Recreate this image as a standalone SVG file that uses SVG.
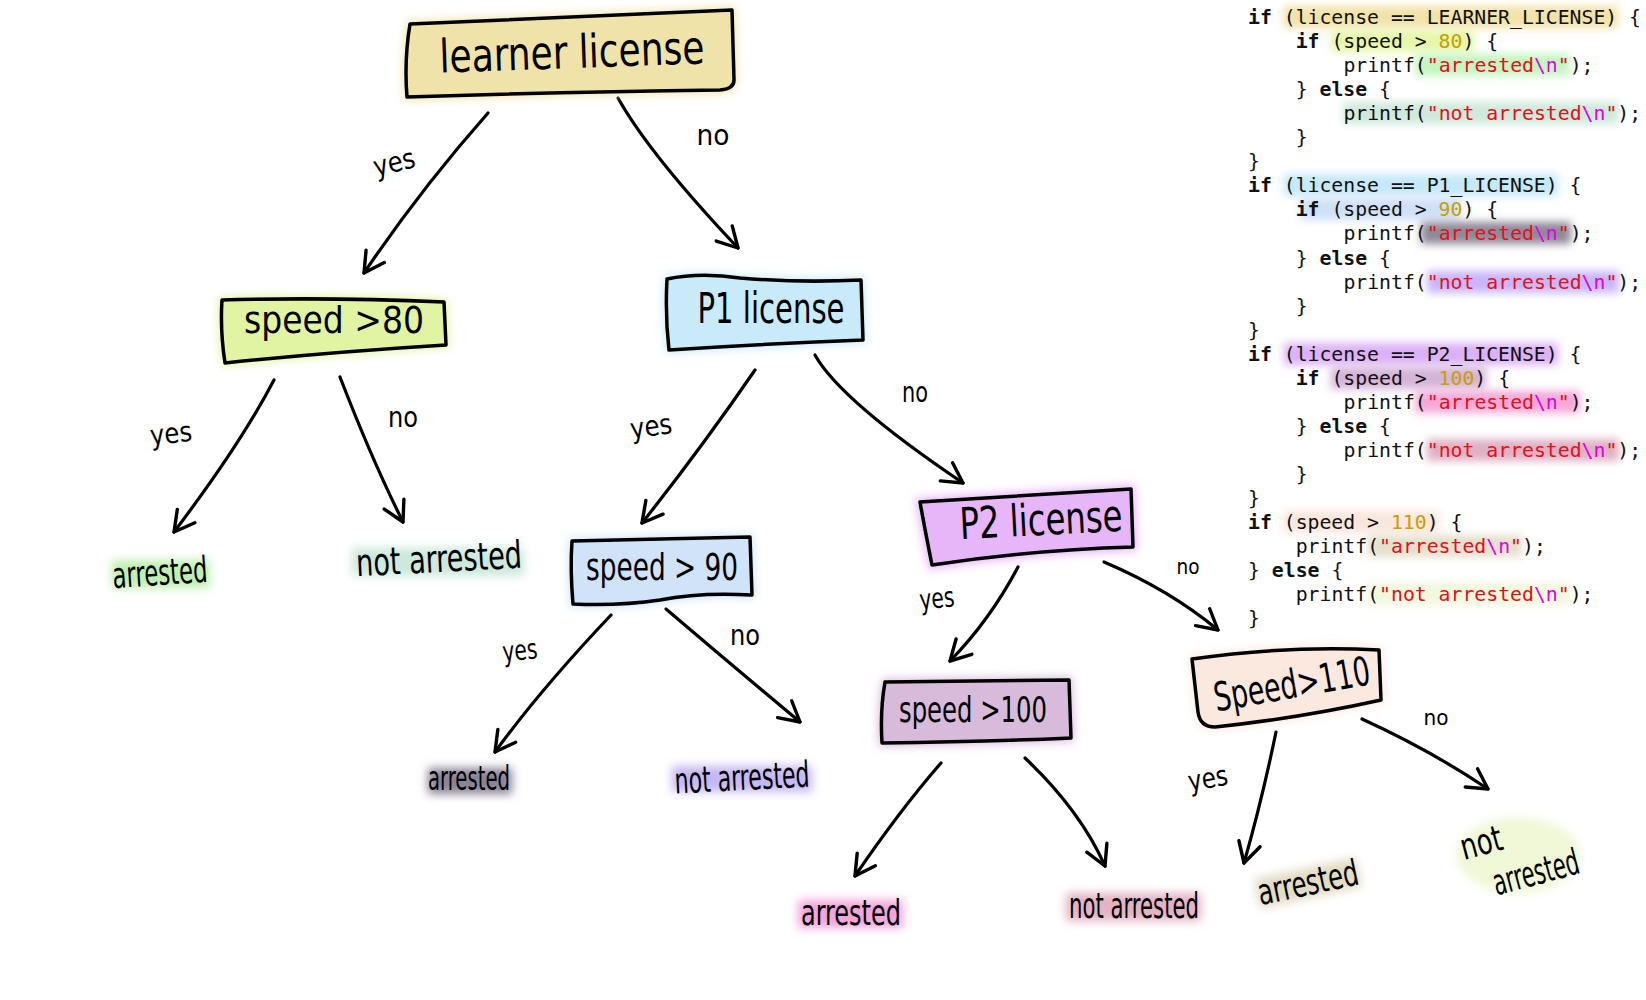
<svg xmlns="http://www.w3.org/2000/svg" width="1646" height="1000" viewBox="0 0 1646 1000">
<defs>
<style>
.box{stroke:#000;stroke-width:3.5;stroke-linejoin:round;stroke-linecap:round}
.glow{filter:url(#blur6)}
.hw{font-family:"Liberation Sans Narrow","DejaVu Sans Condensed","Liberation Sans",sans-serif;fill:#000}
.lbl{font-family:"Liberation Sans Narrow","DejaVu Sans Condensed","Liberation Sans",sans-serif;fill:#000;font-size:28px}
.edge{fill:none;stroke:#000;stroke-width:3.2;stroke-linecap:round;marker-end:url(#arr)}
.code{font-family:"DejaVu Sans Mono",monospace;font-size:19.8px;fill:#111}
.k{font-weight:bold}
.n{fill:#c4a000}
.s{fill:#e0111b}
.e{fill:#e000e0}
.hl{filter:url(#blur4)}
.lh{filter:url(#blur5)}
</style>
<filter id="blur4" x="-30%" y="-100%" width="160%" height="300%"><feGaussianBlur stdDeviation="4"/></filter>
<filter id="blur5" x="-30%" y="-100%" width="160%" height="300%"><feGaussianBlur stdDeviation="5"/></filter>
<filter id="blur6" x="-30%" y="-60%" width="160%" height="220%"><feGaussianBlur stdDeviation="5"/></filter>
<marker id="arr" viewBox="-22 -14 26 28" refX="0" refY="0" markerWidth="26" markerHeight="28" markerUnits="userSpaceOnUse" orient="auto" overflow="visible">
<path d="M-20,-11 L0,0 L-20,11" fill="none" stroke="#000" stroke-width="3.4" stroke-linecap="round" stroke-linejoin="round"/>
</marker>
</defs>
<rect x="0" y="0" width="1646" height="1000" fill="#fff"/>

<!-- code highlights -->
<g id="code-highlights">
<rect class="hl" x="1284" y="6" width="334" height="22" fill="#f3e2a8"/>
<rect class="hl" x="1331" y="30" width="143" height="22" fill="#e6f7a8"/>
<rect class="hl" x="1415" y="54" width="155" height="22" fill="#c5f5c0"/>
<rect class="hl" x="1343" y="102" width="276" height="22" fill="#cfe9dc"/>
<rect class="hl" x="1284" y="174" width="274" height="22" fill="#c5e8fa"/>
<rect class="hl" x="1300" y="198" width="160" height="22" fill="#cfe0f8"/>
<rect class="hl" x="1421" y="222" width="150" height="22" fill="#8e8898"/>
<rect class="hl" x="1427" y="271" width="192" height="22" fill="#c9b5fa"/>
<rect class="hl" x="1284" y="343" width="274" height="22" fill="#dcb0f8"/>
<rect class="hl" x="1331" y="367" width="155" height="22" fill="#d4b4d8"/>
<rect class="hl" x="1415" y="391" width="165" height="22" fill="#f5a8d8"/>
<rect class="hl" x="1427" y="439" width="192" height="22" fill="#e0b0c4"/>
<rect class="hl" x="1284" y="511" width="155" height="22" fill="#fae6dc"/>
<rect class="hl" x="1367" y="535" width="155" height="22" fill="#e4e0cc"/>
<rect class="hl" x="1367" y="583" width="203" height="22" fill="#f2f8dc"/>
</g>

<g id="code">
<text class="code" x="1248" y="24"><tspan class="k">if</tspan> (license == LEARNER_LICENSE) {</text>
<text class="code" x="1295.7" y="48"><tspan class="k">if</tspan> (speed &gt; <tspan class="n">80</tspan>) {</text>
<text class="code" x="1343.4" y="72">printf(<tspan class="s">"arrested</tspan><tspan class="e">\n</tspan><tspan class="s">"</tspan>);</text>
<text class="code" x="1295.7" y="96">} <tspan class="k">else</tspan> {</text>
<text class="code" x="1343.4" y="120">printf(<tspan class="s">"not arrested</tspan><tspan class="e">\n</tspan><tspan class="s">"</tspan>);</text>
<text class="code" x="1295.7" y="144">}</text>
<text class="code" x="1248" y="168">}</text>
<text class="code" x="1248" y="192"><tspan class="k">if</tspan> (license == P1_LICENSE) {</text>
<text class="code" x="1295.7" y="216"><tspan class="k">if</tspan> (speed &gt; <tspan class="n">90</tspan>) {</text>
<text class="code" x="1343.4" y="240">printf(<tspan class="s">"arrested</tspan><tspan class="e">\n</tspan><tspan class="s">"</tspan>);</text>
<text class="code" x="1295.7" y="265">} <tspan class="k">else</tspan> {</text>
<text class="code" x="1343.4" y="289">printf(<tspan class="s">"not arrested</tspan><tspan class="e">\n</tspan><tspan class="s">"</tspan>);</text>
<text class="code" x="1295.7" y="313">}</text>
<text class="code" x="1248" y="337">}</text>
<text class="code" x="1248" y="361"><tspan class="k">if</tspan> (license == P2_LICENSE) {</text>
<text class="code" x="1295.7" y="385"><tspan class="k">if</tspan> (speed &gt; <tspan class="n">100</tspan>) {</text>
<text class="code" x="1343.4" y="409">printf(<tspan class="s">"arrested</tspan><tspan class="e">\n</tspan><tspan class="s">"</tspan>);</text>
<text class="code" x="1295.7" y="433">} <tspan class="k">else</tspan> {</text>
<text class="code" x="1343.4" y="457">printf(<tspan class="s">"not arrested</tspan><tspan class="e">\n</tspan><tspan class="s">"</tspan>);</text>
<text class="code" x="1295.7" y="481">}</text>
<text class="code" x="1248" y="505">}</text>
<text class="code" x="1248" y="529"><tspan class="k">if</tspan> (speed &gt; <tspan class="n">110</tspan>) {</text>
<text class="code" x="1295.7" y="553">printf(<tspan class="s">"arrested</tspan><tspan class="e">\n</tspan><tspan class="s">"</tspan>);</text>
<text class="code" x="1248" y="577">} <tspan class="k">else</tspan> {</text>
<text class="code" x="1295.7" y="601">printf(<tspan class="s">"not arrested</tspan><tspan class="e">\n</tspan><tspan class="s">"</tspan>);</text>
<text class="code" x="1248" y="625">}</text>
</g>

<g id="connectors">
<path class="edge" d="M488,113 Q420,190 364,273"/>
<path class="edge" d="M618,98 Q650,155 738,248"/>
<path class="edge" d="M274,380 Q240,445 174,532"/>
<path class="edge" d="M340,377 Q372,460 403,522"/>
<path class="edge" d="M755,370 Q700,450 642,523"/>
<path class="edge" d="M815,355 Q840,400 963,483"/>
<path class="edge" d="M611,615 Q540,690 495,752"/>
<path class="edge" d="M666,609 Q740,672 800,722"/>
<path class="edge" d="M1018,567 Q990,620 950,661"/>
<path class="edge" d="M1104,562 Q1170,590 1218,630"/>
<path class="edge" d="M941,763 Q900,810 855,876"/>
<path class="edge" d="M1025,758 Q1080,810 1105,866"/>
<path class="edge" d="M1276,732 Q1262,800 1244,863"/>
<path class="edge" d="M1362,719 Q1430,750 1488,789"/>
<text class="lbl" x="394" y="172" text-anchor="middle" transform="rotate(-14 394 162)" textLength="42" lengthAdjust="spacingAndGlyphs">yes</text>
<text class="lbl" x="713" y="145" text-anchor="middle" textLength="33" lengthAdjust="spacingAndGlyphs">no</text>
<text class="lbl" x="171" y="443" text-anchor="middle" transform="rotate(-6 171 435)" textLength="42" lengthAdjust="spacingAndGlyphs">yes</text>
<text class="lbl" x="403" y="427" text-anchor="middle" textLength="30" lengthAdjust="spacingAndGlyphs">no</text>
<text class="lbl" x="651" y="436" text-anchor="middle" transform="rotate(-8 651 427)" textLength="42" lengthAdjust="spacingAndGlyphs">yes</text>
<text class="lbl" x="915" y="402" text-anchor="middle" textLength="26" lengthAdjust="spacingAndGlyphs">no</text>
<text class="lbl" x="520" y="660" text-anchor="middle" transform="rotate(-6 520 652)" textLength="35" lengthAdjust="spacingAndGlyphs">yes</text>
<text class="lbl" x="745" y="645" text-anchor="middle" textLength="30" lengthAdjust="spacingAndGlyphs">no</text>
<text class="lbl" x="937" y="608" text-anchor="middle" transform="rotate(-6 937 600)" textLength="35" lengthAdjust="spacingAndGlyphs">yes</text>
<text class="lbl" x="1188" y="574" text-anchor="middle" style="font-size:22px" textLength="23" lengthAdjust="spacingAndGlyphs">no</text>
<text class="lbl" x="1208" y="788" text-anchor="middle" transform="rotate(-10 1208 780)" textLength="40" lengthAdjust="spacingAndGlyphs">yes</text>
<text class="lbl" x="1436" y="725" text-anchor="middle" style="font-size:22px" textLength="25" lengthAdjust="spacingAndGlyphs">no</text>
</g>

<g id="node-learner">
<path class="glow" d="M410,24 Q560,18 732,10 L734,80 Q734,89 720,90 Q560,92 407,97 Q404,60 410,24 Z" fill="#f0e3aa" stroke="#f0e3aa" stroke-width="6"/>
<path class="box" d="M410,24 Q560,18 732,10 L734,80 Q734,89 720,90 Q560,92 407,97 Q404,60 410,24 Z" fill="#f0e3aa"/>
<text class="hw" x="572" y="68" text-anchor="middle" font-size="46" textLength="265" lengthAdjust="spacingAndGlyphs" transform="rotate(-2 572 55)">learner license</text>
</g>

<g id="node-speed80">
<path class="glow" d="M222,300 Q330,297 444,302 L446,345 Q330,352 225,363 Q220,330 222,300 Z" fill="#e0f4a4" stroke="#e0f4a4" stroke-width="6"/>
<path class="box" d="M222,300 Q330,297 444,302 L446,345 Q330,352 225,363 Q220,330 222,300 Z" fill="#e0f4a4"/>
<text class="hw" x="334" y="333" text-anchor="middle" font-size="38" textLength="180" lengthAdjust="spacingAndGlyphs">speed &gt;80</text>
</g>

<g id="node-p1">
<path class="glow" d="M667,279 Q700,272 740,278 Q800,283 861,280 L863,340 Q760,344 669,350 Q665,315 667,279 Z" fill="#c8eaf9" stroke="#c8eaf9" stroke-width="6"/>
<path class="box" d="M667,279 Q700,272 740,278 Q800,283 861,280 L863,340 Q760,344 669,350 Q665,315 667,279 Z" fill="#c8eaf9"/>
<text class="hw" x="771" y="323" text-anchor="middle" font-size="42" textLength="147" lengthAdjust="spacingAndGlyphs">P1 license</text>
</g>

<g id="node-speed90">
<path class="glow" d="M572,541 L750,537 L752,595 Q700,592 660,600 Q620,606 573,604 Q570,570 572,541 Z" fill="#d0e3f8" stroke="#d0e3f8" stroke-width="6"/>
<path class="box" d="M572,541 L750,537 L752,595 Q700,592 660,600 Q620,606 573,604 Q570,570 572,541 Z" fill="#d0e3f8"/>
<text class="hw" x="662" y="580" text-anchor="middle" font-size="38" textLength="152" lengthAdjust="spacingAndGlyphs">speed &gt; 90</text>
</g>

<g id="node-p2">
<path class="glow" d="M920,502 L1131,489 L1133,547 Q1030,550 932,565 Q925,530 920,502 Z" fill="#e6b6f8" stroke="#e6b6f8" stroke-width="8"/>
<path class="box" d="M920,502 L1131,489 L1133,547 Q1030,550 932,565 Q925,530 920,502 Z" fill="#e6b6f8"/>
<text class="hw" x="1041" y="535" text-anchor="middle" font-size="44" textLength="163" lengthAdjust="spacingAndGlyphs" transform="rotate(-3 1041 520)">P2 license</text>
</g>

<g id="node-speed100">
<path class="glow" d="M885,682 L1069,680 L1071,738 Q980,742 882,743 Q880,710 885,682 Z" fill="#d8bada" stroke="#d8bada" stroke-width="6"/>
<path class="box" d="M885,682 L1069,680 L1071,738 Q980,742 882,743 Q880,710 885,682 Z" fill="#d8bada"/>
<text class="hw" x="973" y="722" text-anchor="middle" font-size="36" textLength="148" lengthAdjust="spacingAndGlyphs">speed &gt;100</text>
</g>

<g id="node-speed110">
<path class="glow" d="M1192,659 Q1290,645 1379,650 L1381,700 Q1300,718 1215,727 Q1200,727 1198,712 Z" fill="#fbe8de" stroke="#fbe8de" stroke-width="6"/>
<path class="box" d="M1192,659 Q1290,645 1379,650 L1381,700 Q1300,718 1215,727 Q1200,727 1198,712 Z" fill="#fbe8de"/>
<text class="hw" x="1292" y="698" text-anchor="middle" font-size="40" textLength="158" lengthAdjust="spacingAndGlyphs" transform="rotate(-10 1292 685)">Speed&gt;110</text>
</g>

<g id="leaf-arrested-1">
<rect class="lh" x="112" y="560" width="98" height="28" fill="#c0f0b0"/>
<text class="hw" x="160" y="585" text-anchor="middle" font-size="36" textLength="95" lengthAdjust="spacingAndGlyphs" transform="rotate(-4 160 575)">arrested</text>
</g>
<g id="leaf-notarrested-1">
<rect class="lh" x="352" y="548" width="172" height="28" fill="#cde8dc"/>
<text class="hw" x="439" y="572" text-anchor="middle" font-size="38" textLength="166" lengthAdjust="spacingAndGlyphs" transform="rotate(-3 439 560)">not arrested</text>
</g>
<g id="leaf-arrested-2">
<rect class="lh" x="428" y="768" width="84" height="26" fill="#8a8396"/>
<text class="hw" x="469" y="790" text-anchor="middle" font-size="34" textLength="82" lengthAdjust="spacingAndGlyphs">arrested</text>
</g>
<g id="leaf-notarrested-2">
<rect class="lh" x="672" y="766" width="140" height="26" fill="#c7b7f5"/>
<text class="hw" x="742" y="790" text-anchor="middle" font-size="36" textLength="135" lengthAdjust="spacingAndGlyphs" transform="rotate(-3 742 778)">not arrested</text>
</g>
<g id="leaf-arrested-3">
<rect class="lh" x="798" y="900" width="105" height="28" fill="#f4a5dc"/>
<text class="hw" x="851" y="925" text-anchor="middle" font-size="36" textLength="100" lengthAdjust="spacingAndGlyphs">arrested</text>
</g>
<g id="leaf-notarrested-3">
<rect class="lh" x="1066" y="893" width="135" height="28" fill="#e3b3c5"/>
<text class="hw" x="1134" y="918" text-anchor="middle" font-size="36" textLength="130" lengthAdjust="spacingAndGlyphs">not arrested</text>
</g>
<g id="leaf-arrested-4">
<rect class="lh" x="1256" y="868" width="104" height="30" fill="#e2dcc4" transform="rotate(-12 1308 883)"/>
<text class="hw" x="1308" y="895" text-anchor="middle" font-size="36" textLength="102" lengthAdjust="spacingAndGlyphs" transform="rotate(-12 1308 883)">arrested</text>
</g>
<g id="leaf-notarrested-4">
<ellipse class="lh" cx="1518" cy="855" rx="62" ry="38" fill="#f0f8d8"/>
<text class="hw" x="1481" y="855" text-anchor="middle" font-size="36" textLength="42" lengthAdjust="spacingAndGlyphs" transform="rotate(-15 1481 842)">not</text>
<text class="hw" x="1533" y="885" text-anchor="middle" font-size="36" textLength="88" lengthAdjust="spacingAndGlyphs" transform="rotate(-15 1533 862)">arrested</text>
</g>
</svg>
